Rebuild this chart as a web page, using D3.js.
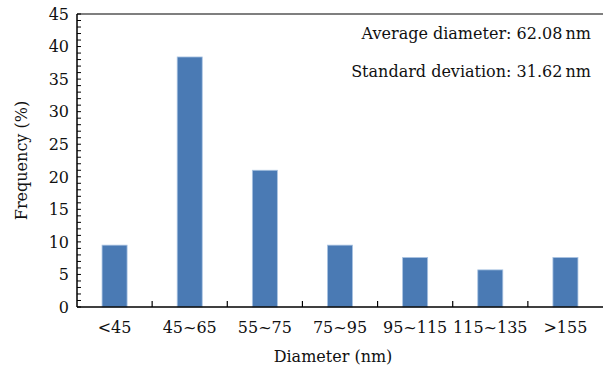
<!DOCTYPE html>
<html>
<head>
<meta charset="utf-8">
<script src="https://cdn.jsdelivr.net/npm/d3@7"></script>
<style>
  body { margin: 0; background: #fff; }
  text { font-family: "DejaVu Serif", "Liberation Serif", serif; fill: #111; }
</style>
</head>
<body>
<div id="mainDiv"></div>
<script>
// Chart data
const categories = ["<45", "45~65", "55~75", "75~95", "95~115", "115~135", ">155"];
const frequency = [9.5, 38.4, 21.0, 9.5, 7.6, 5.7, 7.6];
const yTicks = [0, 5, 10, 15, 20, 25, 30, 35, 40, 45];
const notes = ["Average diameter: 62.08\u2009nm", "Standard deviation: 31.62\u2009nm"];

let width = 603,
	height = 372,
	margin = { top: 14, right: 0, bottom: 65, left: 77 };

let svg = d3.select("#mainDiv").append("svg")
	.attr("width", width)
	.attr("height", height);

let innerW = width - margin.left - margin.right,
	innerH = height - margin.top - margin.bottom;

let g = svg.append("g")
	.attr("transform", "translate(" + margin.left + "," + margin.top + ")");

let x = d3.scaleBand().domain(categories).range([0, innerW]);
let y = d3.scaleLinear().domain([0, 45]).range([innerH, 0]);

// Top frame line
g.append("line")
	.attr("x1", 0).attr("x2", innerW)
	.attr("y1", 0).attr("y2", 0)
	.attr("stroke", "#555").attr("stroke-width", 1.5);

// Bars
let barW = x.bandwidth() * 0.333;
g.selectAll(".bar")
	.data(frequency)
	.enter().append("rect")
	.attr("class", "bar")
	.attr("x", (d, i) => x(categories[i]) + (x.bandwidth() - barW) / 2)
	.attr("y", d => y(d))
	.attr("width", barW)
	.attr("height", d => innerH - y(d))
	.attr("fill", "#4a7ab4")
	.attr("stroke", "#a9c3e2")
	.attr("stroke-width", 0.8);

// Y axis: minor ticks every 1, inward
let yAxis = g.append("g");
yAxis.append("line")
	.attr("x1", 0).attr("x2", 0)
	.attr("y1", 0).attr("y2", innerH)
	.attr("stroke", "#000").attr("stroke-width", 1.5);
yAxis.selectAll(".minor")
	.data(d3.range(0, 46))
	.enter().append("line")
	.attr("x1", 0).attr("x2", 4)
	.attr("y1", d => y(d)).attr("y2", d => y(d))
	.attr("stroke", "#000").attr("stroke-width", 1);
yAxis.selectAll(".ylab")
	.data(yTicks)
	.enter().append("text")
	.attr("x", -8)
	.attr("y", d => y(d))
	.attr("dy", "0.36em")
	.attr("text-anchor", "end")
	.style("font-size", "16px")
	.text(d => d);

// X axis with inward boundary ticks
let xAxis = g.append("g").attr("transform", "translate(0," + innerH + ")");
xAxis.append("line")
	.attr("x1", 0).attr("x2", innerW)
	.attr("stroke", "#000").attr("stroke-width", 1.5);
xAxis.selectAll(".xtick")
	.data(categories.slice(1))
	.enter().append("line")
	.attr("x1", d => x(d)).attr("x2", d => x(d))
	.attr("y1", 0).attr("y2", -6)
	.attr("stroke", "#000").attr("stroke-width", 1.2);
xAxis.selectAll(".xlab")
	.data(categories)
	.enter().append("text")
	.attr("x", d => x(d) + x.bandwidth() / 2)
	.attr("y", 26)
	.attr("text-anchor", "middle")
	.style("font-size", "16px")
	.text(d => d);

// Axis titles
svg.append("text")
	.attr("x", margin.left + innerW / 2 - 7)
	.attr("y", 362)
	.attr("text-anchor", "middle")
	.style("font-size", "16px")
	.text("Diameter (nm)");

svg.append("text")
	.attr("transform", "translate(27," + (margin.top + innerH / 2) + ") rotate(-90)")
	.attr("text-anchor", "middle")
	.style("font-size", "16px")
	.text("Frequency (%)");

// Annotations
svg.selectAll(".note")
	.data(notes)
	.enter().append("text")
	.attr("x", 591)
	.attr("y", (d, i) => 39 + i * 38)
	.attr("text-anchor", "end")
	.style("font-size", "16px")
	.text(d => d);
</script>
</body>
</html>
